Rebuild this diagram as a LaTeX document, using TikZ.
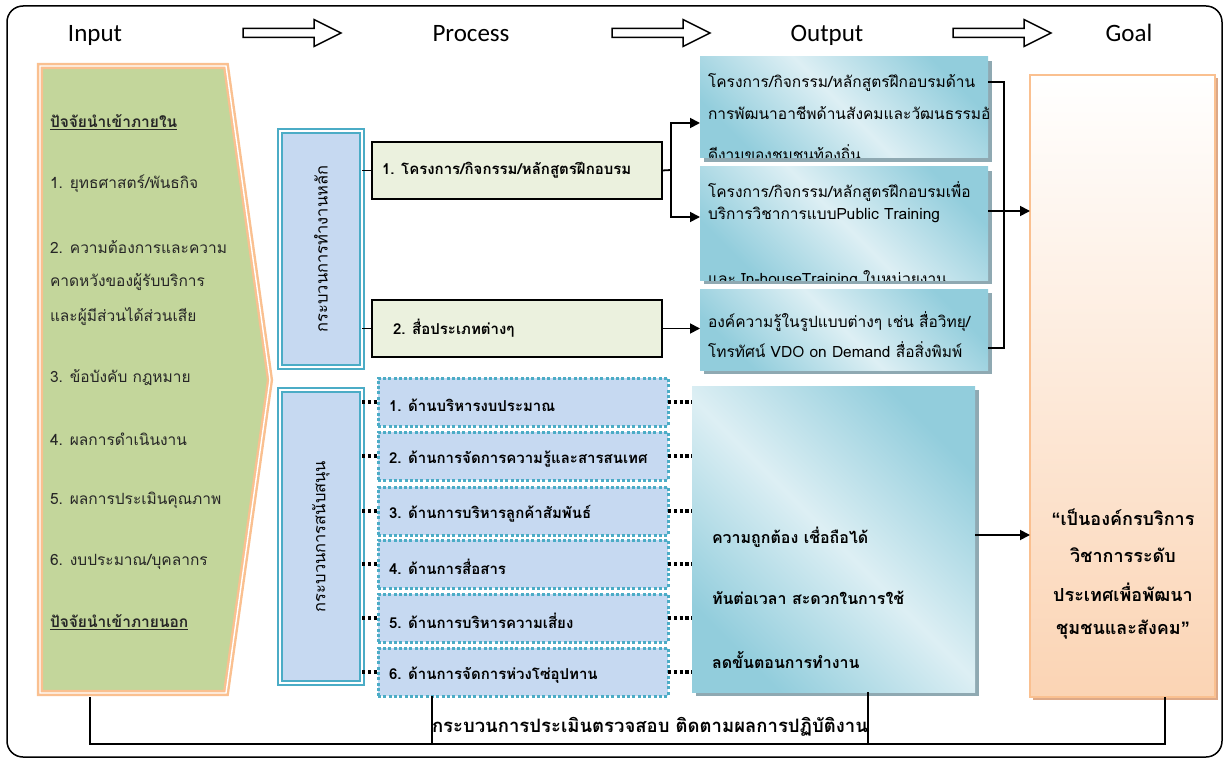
\documentclass[tikz,border=0pt]{standalone}
\usepackage{fontspec}
\setmainfont{Carlito}
\newfontfamily\thai[Script=Thai]{Loma}
\newfontfamily\quotefont{Liberation Sans}
\usetikzlibrary{arrows.meta,shadows}

\definecolor{cyanB}{HTML}{4BACC6}
\definecolor{paleBlue}{HTML}{C6D9F1}
\definecolor{paleGreen}{HTML}{EBF1DE}
\definecolor{inGreen}{HTML}{C3D69B}
\definecolor{peachLine}{HTML}{FAC090}
\definecolor{peachFill}{HTML}{FBD4B4}
\definecolor{tealDark}{HTML}{92CDDC}
\definecolor{tealLight}{HTML}{DDEFF4}
\definecolor{tealShadow}{HTML}{8FA9B2}
\definecolor{peachShadow}{HTML}{DDA887}
\definecolor{txt}{HTML}{262626}

\begin{document}
\begin{tikzpicture}[x=1pt,y=-1pt,
  every node/.style={inner sep=0pt,outer sep=0pt},
  hdr/.style={font=\fontsize{25}{30}\selectfont, anchor=base},
  hdrarrow/.style={draw=black, line width=1.5pt, fill=white, line join=miter},
  tin/.style={font=\thai\fontsize{15.5}{18}\selectfont, text=txt, anchor=west},
  tout/.style={font=\thai\fontsize{15.5}{18}\selectfont, text=black, anchor=west},
  tbold/.style={font=\thai\bfseries\fontsize{15}{18}\selectfont, text=black, anchor=west},
  tside/.style={font=\thai\fontsize{16.5}{19}\selectfont, text=black, rotate=90},
  tgoal/.style={font=\thai\bfseries\fontsize{18}{21}\selectfont, text=black},
  corner/.style={anchor=north west},
  frame/.style={corner, draw=cyanB, double=white, double distance=1.2pt,
    line width=2.2pt, fill=paleBlue},
  procbox/.style={corner, draw=black, line width=1.8pt, fill=paleGreen},
  dotbox/.style={corner, draw=cyanB, line width=3pt,
    dash pattern=on 3pt off 2.3pt, fill=paleBlue,
    minimum width=290pt, minimum height=48pt},
  outbox/.style={corner, top color=tealDark, bottom color=tealDark,
    middle color=tealLight, shading angle=-45,
    drop shadow={shadow xshift=4pt, shadow yshift=-4pt, fill=tealShadow, opacity=1}},
  goalbox/.style={corner, draw=peachLine, line width=2pt, top color=white,
    bottom color=peachFill,
    drop shadow={shadow xshift=3pt, shadow yshift=-3pt, fill=peachShadow, opacity=1}},
  conn/.style={draw=black, line width=1.8pt},
  arr/.style={conn, -{Triangle[length=10pt,width=10pt]}},
  dotconn/.style={draw=black, line width=3.2pt, dash pattern=on 3.2pt off 2.6pt},
]
\useasboundingbox (0,0) rectangle (1229,762);

% outer frame
\draw[line width=1.5pt, rounded corners=16pt] (7,6) rectangle (1222,757);

% column headings
\node[hdr] (hIn) at (95,42) {Input};
\node[hdr] (hPr) at (471,42) {Process};
\node[hdr] (hOut) at (827,42) {Output};
\node[hdr] (hGoal) at (1129,42) {Goal};
\foreach \x in {243,612,953} {
  \draw[hdrarrow] (\x,28.5) -- ++(71,0) -- ++(0,-9) -- ++(27,13.5)
    -- ++(-27,13.5) -- ++(0,-9) -- ++(-71,0) -- cycle;
}

% input panel
\draw[fill=inGreen, draw=peachLine, double=white, double distance=1.4pt, line width=2.4pt]
  (40,66) -- (226,66) -- (270,380) -- (226,693) -- (40,693) -- cycle;
\coordinate (inBottom) at (90,697);
\node[tin, font=\thai\bfseries\fontsize{15.5}{18}\selectfont] (in0) at (50,122) {\underline{ปัจจัยนำเข้าภายใน}};
\node[tin] (in1) at (50,184) {1. ยุทธศาสตร์/พันธกิจ};
\node[tin] (in2a) at (50,247) {2. ความต้องการและความ};
\node[tin] (in2b) at (50,282) {คาดหวังของผู้รับบริการ};
\node[tin] (in2c) at (50,317) {และผู้มีส่วนได้ส่วนเสีย};
\node[tin] (in3) at (50,378) {3. ข้อบังคับ กฎหมาย};
\node[tin] (in4) at (50,439) {4. ผลการดำเนินงาน};
\node[tin] (in5) at (50,500) {5. ผลการประเมินคุณภาพ};
\node[tin] (in6) at (50,562) {6. งบประมาณ/บุคลากร};
\node[tin, font=\thai\bfseries\fontsize{15.5}{18}\selectfont] (in7) at (50,622) {\underline{ปัจจัยนำเข้าภายนอก}};

% main process
\node[frame, minimum width=82pt, minimum height=236pt] (fMain) at (280,131) {};
\node[tside] (fMainT) at (fMain.center) {กระบวนการทำงานหลัก};
\node[procbox, minimum width=290pt, minimum height=57pt] (p1) at (372,142) {};
\node[procbox, minimum width=290pt, minimum height=57pt] (p2) at (372,300) {};
\node[tbold] (p1t) at (382,170) {1. โครงการ/กิจกรรม/หลักสูตรฝึกอบรม};
\node[tbold] (p2t) at (393,328) {2. สื่อประเภทต่างๆ};
\draw[conn] (fMain.east |- p1.west) -- (p1.west);
\draw[conn] (fMain.east |- p2.west) -- (p2.west);

% outputs of the main process
\node[outbox, minimum width=288pt, minimum height=101pt] (o1) at (700,57) {};
\node[outbox, minimum width=288pt, minimum height=113pt] (o2) at (700,167) {};
\node[outbox, minimum width=288pt, minimum height=81pt] (o3) at (700,289) {};
\begin{scope}
  \clip (o1.north west) rectangle (o1.south east);
  \node[tout] (o1a) at (708,83) {โครงการ/กิจกรรม/หลักสูตรฝึกอบรมด้าน};
  \node[tout] (o1b) at (708,113) {การพัฒนาอาชีพด้านสังคมและวัฒนธรรมอัน};
  \node[tout] (o1c) at (708,155) {ดีงามของชุมชนท้องถิ่น};
\end{scope}
\begin{scope}
  \clip (o2.north west) rectangle (o2.south east);
  \node[tout] (o2a) at (708,192) {โครงการ/กิจกรรม/หลักสูตรฝึกอบรมเพื่อ};
  \node[tout] (o2b) at (708,215) {บริการวิชาการแบบPublic Training};
  \node[tout] (o2c) at (708,279) {และ In-houseTraining ในหน่วยงาน};
\end{scope}
\node[tout] (o3a) at (708,322) {องค์ความรู้ในรูปแบบต่างๆ เช่น สื่อวิทยุ/};
\node[tout] (o3b) at (708,350) {โทรทัศน์ VDO on Demand สื่อสิ่งพิมพ์};

\coordinate (fork) at (671,170);
\draw[conn] (p1.east) -- (fork);
\draw[arr] (fork) |- ([yshift=-15.5pt]o1.west);
\draw[arr] (fork) |- ([yshift=6.5pt]o2.west);
\draw[arr] (p2.east) -- (p2.east -| o3.west);

% goal
\node[goalbox, minimum width=185pt, minimum height=622pt] (goal) at (1030,75) {};
\node[tgoal] (g1) at (1123,517) {{\quotefont “}เป็นองค์กรบริการ};
\node[tgoal] (g2) at (1123,555) {วิชาการระดับ};
\node[tgoal] (g3) at (1123,592) {ประเทศเพื่อพัฒนา};
\node[tgoal] (g4) at (1123,630) {ชุมชนและสังคม{\quotefont ”}};

\coordinate (brT) at (1004,82);
\coordinate (brB) at (1004,348);
\draw[conn] (o1.east |- brT) -- (brT) -- (brB) -- (o3.east |- brB);
\path ([yshift=12.5pt]o2.east) coordinate (gIn);
\draw[arr] (gIn) -- (gIn -| goal.west);

% support process
\node[frame, minimum width=82pt, minimum height=293pt] (fSup) at (280,390) {};
\node[tside] (fSupT) at (fSup.center) {กระบวนการสนับสนุน};
\node[outbox, minimum width=283pt, minimum height=306pt] (o4) at (692,386) {};
\node[tbold, font=\thai\bfseries\fontsize{16}{19}\selectfont] (o4a) at (712,537) {ความถูกต้อง เชื่อถือได้};
\node[tbold, font=\thai\bfseries\fontsize{16}{19}\selectfont] (o4b) at (712,598) {ทันต่อเวลา สะดวกในการใช้};
\node[tbold, font=\thai\bfseries\fontsize{16}{19}\selectfont] (o4c) at (712,660) {ลดขั้นตอนการทำงาน};

\foreach \i/\y/\t in {1/378/{1. ด้านบริหารงบประมาณ},
                      2/432/{2. ด้านการจัดการความรู้และสารสนเทศ},
                      3/487/{3. ด้านการบริหารลูกค้าสัมพันธ์},
                      4/540/{4. ด้านการสื่อสาร},
                      5/594/{5. ด้านการบริหารความเสี่ยง},
                      6/648/{6. ด้านการจัดการห่วงโซ่อุปทาน}} {
  \node[dotbox] (d\i) at (378,\y) {};
  \node[tbold] (d\i t) at (389,\y+27) {\t};
  \draw[dotconn] (fSup.east |- d\i.west) -- (d\i.west);
  \draw[dotconn] (d\i.east) -- (d\i.east -| o4.west);
}

\path ([yshift=4pt]o4.east) coordinate (o4out);
\draw[arr] (o4out) -- (o4out -| goal.west);

% evaluation loop
\coordinate (fbL) at (90,744);
\coordinate (fbR) at (1165,744);
\coordinate (fbA) at (432,744);
\coordinate (fbB) at (868,744);
\draw[conn] (inBottom) -- (fbL) -- (fbR) -- (goal.south -| fbR);
\draw[conn] (d6.south -| fbA) -- (fbA);
\draw[conn] (o4.south -| fbB) -- (fbB);
\node[font=\thai\bfseries\fontsize{18.5}{22}\selectfont] (fbT) at (650,727) {กระบวนการประเมินตรวจสอบ ติดตามผลการปฏิบัติงาน};
\end{tikzpicture}
\end{document}
